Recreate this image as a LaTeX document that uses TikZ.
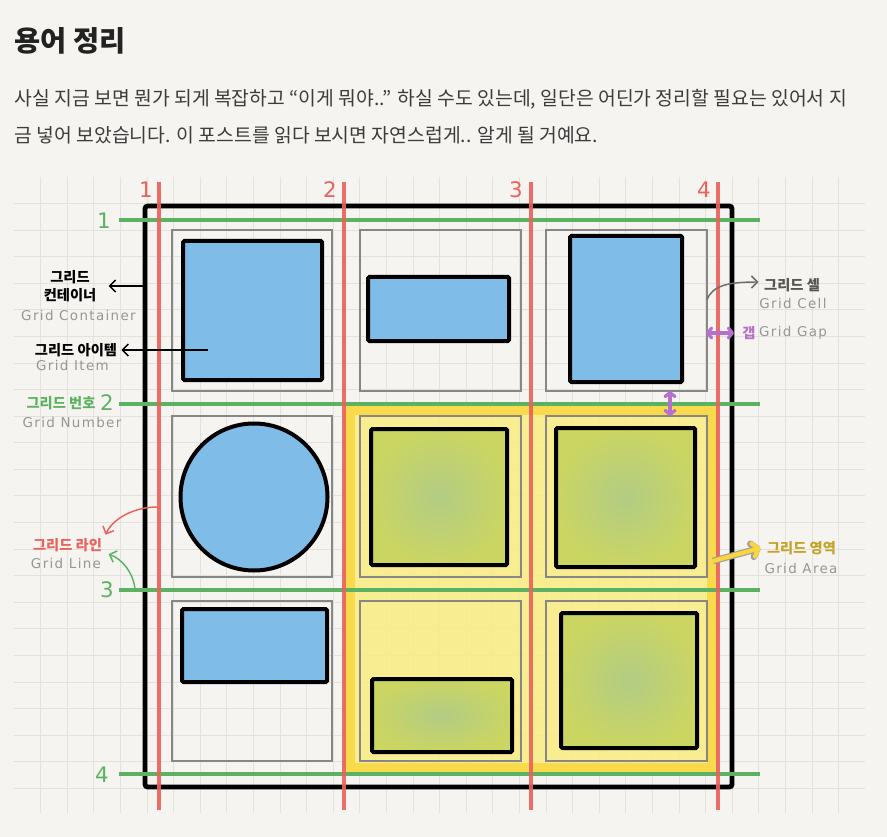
\documentclass[tikz,border=0pt]{standalone}
\usepackage{fontspec}
\setmainfont{Noto Sans CJK KR}
\newfontfamily\hand[LetterSpace=10]{DejaVu Sans}
\newfontfamily\handnum{DejaVu Sans}
\usetikzlibrary{arrows.meta, calc}

\definecolor{paper}{RGB}{245,244,240}
\definecolor{paperline}{RGB}{226,225,220}
\definecolor{cellgray}{RGB}{135,135,135}
\definecolor{itemblue}{RGB}{128,188,232}
\definecolor{gridred}{RGB}{234,98,92}
\definecolor{gridgreen}{RGB}{92,178,98}
\definecolor{areafill}{RGB}{250,236,130}
\definecolor{areaedge}{RGB}{250,214,60}
\definecolor{itemgreenA}{RGB}{178,204,132}
\definecolor{itemgreenB}{RGB}{202,213,98}
\definecolor{gapviolet}{RGB}{180,112,204}
\definecolor{handgray}{RGB}{150,150,150}
\definecolor{areatext}{RGB}{196,164,40}
\definecolor{celltxt}{RGB}{85,85,85}
\definecolor{titletxt}{RGB}{34,34,34}
\definecolor{txt}{RGB}{60,60,60}

\begin{document}
\begin{tikzpicture}[x=0.75pt, y=-0.75pt,
    every node/.style={inner sep=1pt},
    paper_line/.style={draw=paperline, line width=0.75pt},
    grid_cell/.style={draw=cellgray, line width=1.1pt},
    item_box/.style={draw=black, line width=3pt, rounded corners=1pt},
    blue_item/.style={item_box, fill=itemblue},
    green_item/.style={item_box, inner color=itemgreenA, outer color=itemgreenB},
    red_line/.style={draw=gridred, line width=3pt, opacity=0.92},
    green_line/.style={draw=gridgreen, line width=3.6pt},
    num_red/.style={text=gridred, font=\handnum\fontsize{16}{16}\selectfont},
    num_green/.style={text=gridgreen, font=\handnum\fontsize{16}{16}\selectfont},
    ko_label/.style={font=\bfseries\fontsize{10.7}{13.5}\selectfont, align=center},
    en_label/.style={text=handgray, font=\hand\fontsize{10.1}{12}\selectfont},
    pointer/.style={line width=1.1pt, -{Straight Barb[length=4.5pt, width=9pt]}},
    gap_arrow/.style={draw=gapviolet, line width=2.4pt, line cap=round,
      {Straight Barb[round, length=3pt, width=7.5pt]}-{Straight Barb[round, length=3pt, width=7.5pt]}}
  ]

  \fill[paper] (0,0) rectangle (887,837);
  \useasboundingbox (0,0) rectangle (887,837);

  % Kopf und Text
  \node[anchor=west, text=titletxt, font=\bfseries\fontsize{21.3}{26}\selectfont] (title) at (13,41) {용어 정리};
  \node[anchor=west, text=txt, font=\fontsize{14.5}{18}\selectfont] (line_a) at (13,99)
    {사실 지금 보면 뭔가 되게 복잡하고 “이게 뭐야..” 하실 수도 있는데, 일단은 어딘가 정리할 필요는 있어서 지};
  \node[anchor=west, text=txt, font=\fontsize{14.5}{18}\selectfont] (line_b) at (13,135)
    {금 넣어 보았습니다. 이 포스트를 읽다 보시면 자연스럽게.. 알게 될 거예요.};

  % Karopapier
  \foreach \i in {1,...,31}
    \draw[paper_line] ({14+26.6*\i},177) -- ({14+26.6*\i},813);
  \foreach \j in {1,...,23}
    \draw[paper_line] (14,{177+26.58*\j}) -- (865,{177+26.58*\j});

  % Grid-Area (gelb markiert)
  \fill[areafill, fill opacity=0.85] (344,404) rectangle (718,774);
  \draw[areaedge, line width=8pt, opacity=0.8] (350,410) rectangle (712,768);

  % Zellen 3x3
  \foreach \xa/\xb in {172/332, 360/521, 546/707}
    \foreach \ya/\yb in {230/391, 416/577, 601/761}
      \draw[grid_cell] (\xa,\ya) rectangle (\xb,\yb);

  % Items
  \draw[blue_item] (183,241) rectangle (322,380);
  \draw[blue_item] (368,277) rectangle (509,341);
  \draw[blue_item] (570,236) rectangle (682,382);
  \draw[blue_item] (254,497) circle[radius=73.5];
  \draw[green_item] (371,429) rectangle (507,565);
  \draw[green_item] (556,428) rectangle (695,567);
  \draw[blue_item] (182,609) rectangle (327,682);
  \draw[green_item] (372,679) rectangle (512,752);
  \draw[green_item] (561,613) rectangle (697,748);

  % Grid-Container
  \draw[line width=3.6pt, rounded corners=2pt] (145,206) rectangle (732,787);

  % Grid-Linien: Zeilen (gruen), Spalten (rot)
  \foreach \y/\ly/\lx/\n in {220/221/104/1, 404/403/107/2, 590/590/107/3, 774/775/102/4} {
    \draw[green_line] (119,\y) -- (760,\y);
    \node[num_green] (row_\n) at (\lx,\ly) {\n};
  }
  \foreach \x/\lx/\n in {159/146/1, 344/330/2, 531/516/3, 718/704/4} {
    \draw[red_line] (\x,182) -- (\x,810);
    \node[num_red] (col_\n) at (\lx,190) {\n};
  }

  % Beschriftung links
  \node[ko_label] (ko_ctr) at (70,286) {그리드\\컨테이너};
  \node[en_label] (en_ctr) at (78.5,315) {Grid Container};
  \node[ko_label] (ko_item) at (76,350) {그리드 아이템};
  \node[en_label] (en_item) at (72.5,365) {Grid Item};
  \node[ko_label, text=gridgreen] (ko_num) at (61,403) {그리드 번호};
  \node[en_label] (en_num) at (72,422) {Grid Number};
  \node[ko_label, text=gridred] (ko_line) at (67.5,545) {그리드 라인};
  \node[en_label] (en_line) at (66,563) {Grid Line};

  % Beschriftung rechts
  \node[ko_label, text=celltxt] (ko_cell) at (792,285) {그리드 셀};
  \node[en_label] (en_cell) at (793,303) {Grid Cell};
  \node[ko_label, text=gapviolet] (ko_gap) at (749,333) {갭};
  \node[en_label] (en_gap) at (793,333) {Grid Gap};
  \node[ko_label, text=areatext] (ko_area) at (801.5,548) {그리드 영역};
  \node[en_label] (en_area) at (801,568) {Grid Area};

  % Pfeile
  \coordinate (ctr_pt) at (143,286);
  \coordinate (item_pt) at (208,350);
  \coordinate (line_pt) at (157,507);
  \coordinate (row3_pt) at (135,589);
  \coordinate (cell_pt) at (707,300);
  \coordinate (area_pt) at (713,561);
  \coordinate (gap_l) at (706,333);
  \coordinate (gap_r) at (734,333);
  \coordinate (gap_t) at (670,391);
  \coordinate (gap_b) at (670,416);

  \draw[pointer, shorten >=8pt] (ctr_pt) -- (ko_ctr.east);
  \draw[pointer, shorten >=2pt] (item_pt) -- (ko_item.east);
  \draw[pointer, gridred] (line_pt) .. controls (135,507) and (113,518) .. ($(ko_line.north east)+(2,-2)$);
  \draw[pointer, gridgreen] (row3_pt) .. controls (133,572) and (122,559) .. ($(en_line.north east)+(6,-2)$);
  \draw[pointer, celltxt!85] (cell_pt) .. controls (712,285) and (730,282) .. ($(ko_cell.west)+(-4,-3)$);
  \draw[gap_arrow] (gap_l) -- (gap_r);
  \draw[gap_arrow] (gap_t) -- (gap_b);
  \draw[draw=gray!75, line width=5pt, -{Straight Barb[round, length=4pt, width=10pt]}] (area_pt) -- ($(ko_area.west)+(-5,0)$);
  \draw[draw=areaedge, line width=3.2pt, -{Straight Barb[round, length=4pt, width=10pt]}] (area_pt) -- ($(ko_area.west)+(-5,0)$);

\end{tikzpicture}
\end{document}
